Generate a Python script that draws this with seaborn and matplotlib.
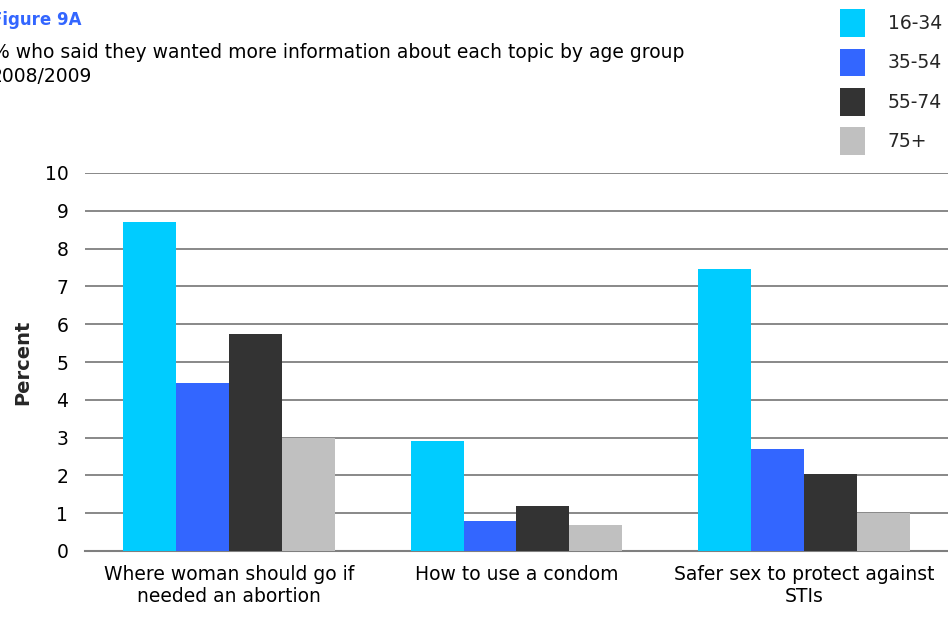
import matplotlib
matplotlib.use("Agg")
import matplotlib.pyplot as plt
import seaborn as sns
import pandas as pd
from matplotlib.patches import Patch

topics = ["Where woman should go if\nneeded an abortion",
          "How to use a condom",
          "Safer sex to protect against\nSTIs"]
age_groups = ["16-34", "35-54", "55-74", "75+"]
v_16_34 = [8.7, 2.9, 7.45]
v_35_54 = [4.45, 0.8, 2.7]
v_55_74 = [5.75, 1.2, 2.05]
v_75p = [3.0, 0.7, 1.0]
yticks = list(range(0, 11))
colors = ["#00CCFF", "#3366FF", "#333333", "#C0C0C0"]

rows = []
for g, vals in zip(age_groups, [v_16_34, v_35_54, v_55_74, v_75p]):
    for t, v in zip(topics, vals):
        rows.append({"topic": t, "age": g, "value": v})
df = pd.DataFrame(rows)

sns.set_theme(style="white")
plt.rcParams["font.family"] = ["DejaVu Sans"]

fig = plt.figure(figsize=(9.48, 6.21), dpi=100)
ax = fig.add_axes([85/948, 1-551/621, 863/948, (551-173)/621])

sns.barplot(data=df, x="topic", y="value", hue="age", hue_order=age_groups,
            order=topics, palette=colors, width=0.735, saturation=1,
            edgecolor="none", linewidth=0, ax=ax, legend=False, zorder=3)

ax.set_xlim(-0.5, 2.5)
ax.set_ylim(0, 10)
ax.set_yticks(yticks)
ax.yaxis.grid(True, color="#7f7f7f", linewidth=1.3, zorder=0)
ax.set_axisbelow(True)
for s in ["top", "right", "left"]:
    ax.spines[s].set_visible(False)
ax.spines["bottom"].set_color("#7f7f7f")
ax.spines["bottom"].set_linewidth(1.5)
ax.tick_params(axis="both", length=0, labelsize=13.5, colors="black")
ax.tick_params(axis="y", pad=12)
ax.tick_params(axis="x", pad=10)
ax.set_xlabel("")
ax.set_ylabel("Percent", fontsize=14, fontweight="bold", labelpad=9)

fig.text(-9/948, 1-25/621, "Figure 9A", fontsize=12, fontweight="bold", color="#3366FF")
fig.text(-8/948, 1-58/621, "% who said they wanted more information about each topic by age group",
         fontsize=13.5, color="black")
fig.text(-9/948, 1-82/621, "2008/2009", fontsize=13.5, color="black")

handles = [Patch(facecolor=c, edgecolor="none", label=g) for c, g in zip(colors, age_groups)]
fig.legend(handles=handles, loc="upper left", bbox_to_anchor=(827/948, 1 + 4/621),
           frameon=False, fontsize=13.5, handlelength=1.35, handleheight=1.9,
           labelspacing=0.62, handletextpad=1.2, borderaxespad=0.3)

fig.savefig("out.png", dpi=100)
